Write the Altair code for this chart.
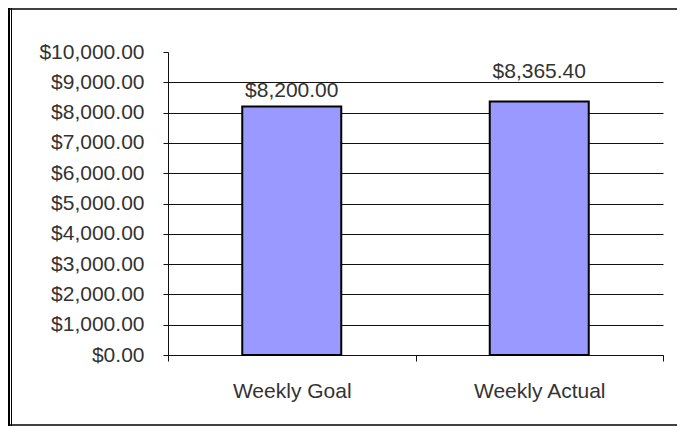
import altair as alt
import pandas as pd

categories = ["Weekly Goal", "Weekly Actual"]
values = [8200.00, 8365.40]
y_ticks = [0, 1000, 2000, 3000, 4000, 5000, 6000, 7000, 8000, 9000, 10000]

df = pd.DataFrame({"category": categories, "amount": values})

FONT = "Liberation Sans"
TXT = "#333333"
FS = 21

x_enc = alt.X(
    "category:N",
    sort=categories,
    scale=alt.Scale(paddingInner=0, paddingOuter=0),
    axis=alt.Axis(
        title=None, labelAngle=0, tickBand="extent", ticks=True, tickSize=6,
        tickColor="#111", domainColor="#111", labelPadding=19, labelFontSize=FS,
        labelFont=FONT, labelColor=TXT, grid=False, labelOverlap=False,
    ),
)
y_enc = alt.Y(
    "amount:Q",
    scale=alt.Scale(domain=[0, 10000], nice=False),
    axis=alt.Axis(
        title=None, values=y_ticks, tickCount=len(y_ticks), format="$,.2f",
        tickSize=5, labelPadding=19,
        tickColor="#111", domainColor="#111", grid=True, gridColor="#111",
        gridOpacity=alt.ExprRef(expr="datum.value == 10000 ? 0 : 1"),
        labelFontSize=FS, labelFont=FONT, labelColor=TXT, labelOverlap=False,
    ),
)

base = alt.Chart(df)

bars = base.mark_bar(
    width=alt.RelativeBandSize(0.4), color="#9999FF", stroke="#000", strokeWidth=2
).encode(x=x_enc, y=y_enc)

label_goal = base.transform_filter(alt.datum.category == "Weekly Goal").mark_text(
    font=FONT, fontSize=FS, color=TXT, baseline="middle", dy=-16
).encode(x=alt.X("category:N", sort=categories), y="amount:Q", text=alt.Text("amount:Q", format="$,.2f"))

label_actual = base.transform_filter(alt.datum.category == "Weekly Actual").mark_text(
    font=FONT, fontSize=FS, color=TXT, baseline="middle", dy=-30
).encode(x=alt.X("category:N", sort=categories), y="amount:Q", text=alt.Text("amount:Q", format="$,.2f"))

frame_df = pd.DataFrame({"k": [0]})
frame = alt.Chart(frame_df)
left_thick = frame.mark_rule(color="#000", strokeWidth=2).encode(
    x=alt.value(-159), y=alt.value(-44), y2=alt.value(374)
)
left_thin = frame.mark_rule(color="#000", strokeWidth=1).encode(
    x=alt.value(-156.5), y=alt.value(-44), y2=alt.value(374)
)
top_line = frame.mark_rule(color="#000", strokeWidth=1.5).encode(
    x=alt.value(-160), x2=alt.value(509), y=alt.value(-43)
)
bottom_line = frame.mark_rule(color="#000", strokeWidth=1.5).encode(
    x=alt.value(-160), x2=alt.value(509), y=alt.value(373)
)

chart = alt.layer(
    bars, label_goal, label_actual, left_thick, left_thin, top_line, bottom_line
).properties(
    width=495,
    height=303,
    autosize=alt.AutoSizeParams(type="none"),
    padding={"left": 160, "top": 44, "right": 14, "bottom": 71},
    background="white",
).configure_view(stroke=None)

chart.save("out.html", embed_options={"renderer": "svg", "actions": False})
